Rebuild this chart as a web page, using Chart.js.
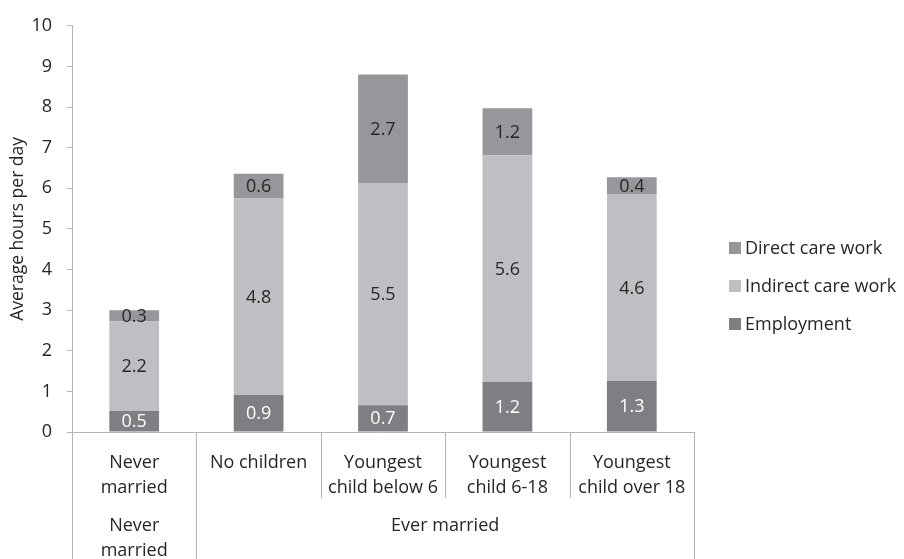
<!DOCTYPE html>
<html>
<head>
<meta charset="utf-8">
<script src="https://cdn.jsdelivr.net/npm/chart.js@4/dist/chart.umd.min.js"></script>
<style>
  html, body { margin: 0; padding: 0; background: #fff; }
</style>
</head>
<body>
<canvas id="chart" width="904" height="559"></canvas>
<script>
// categories (first axis row) and their parent groups (second row)
var categories = [['Never', 'married'], 'No children', ['Youngest', 'child below 6'], ['Youngest', 'child 6-18'], ['Youngest', 'child over 18']];
var groups = [['Never', 'married'], ['Ever married']];
var groupSizes = [1, 4];

// hours per day
var employment = [0.52, 0.91, 0.66, 1.23, 1.26];
var indirectCare = [2.2, 4.84, 5.47, 5.58, 4.6];
var directCare = [0.28, 0.61, 2.67, 1.16, 0.41];

var yTicks = [0, 1, 2, 3, 4, 5, 6, 7, 8, 9, 10];

var FONT = '"Open Sans", sans-serif';
var FS = 18;
Chart.defaults.font.family = FONT;
Chart.defaults.color = '#262626';

// value labels in the middle of each segment
var segmentLabels = {
  id: 'segmentLabels',
  afterDatasetsDraw: function(chart) {
    var ctx = chart.ctx;
    ctx.save();
    ctx.font = FS + 'px ' + FONT;
    ctx.textAlign = 'center';
    ctx.textBaseline = 'middle';
    chart.data.datasets.forEach(function(ds, i) {
      var meta = chart.getDatasetMeta(i);
      meta.data.forEach(function(bar, j) {
        ctx.fillStyle = ds.labelColor;
        ctx.fillText(ds.data[j].toFixed(1), bar.x, (bar.y + bar.base) / 2 + 1);
      });
    });
    ctx.restore();
  }
};

// two-level category axis: separators + group names
var groupAxis = {
  id: 'groupAxis',
  afterDraw: function(chart) {
    var ctx = chart.ctx;
    var x = chart.scales.x;
    var area = chart.chartArea;
    var n = categories.length;
    var edges = [];
    for (var i = 0; i <= n; i++) {
      if (i === 0) edges.push(area.left);
      else if (i === n) edges.push(area.right);
      else edges.push((x.getPixelForValue(i - 1) + x.getPixelForValue(i)) / 2);
    }
    var groupEdges = [0];
    groupSizes.forEach(function(s) { groupEdges.push(groupEdges[groupEdges.length - 1] + s); });

    ctx.save();
    ctx.strokeStyle = '#b4b4b4';
    ctx.lineWidth = 1;
    edges.forEach(function(ex, i) {
      var full = groupEdges.indexOf(i) >= 0;
      var px = Math.round(ex) + 0.5;
      ctx.beginPath();
      ctx.moveTo(px, area.bottom);
      ctx.lineTo(px, full ? chart.height : area.bottom + 66);
      ctx.stroke();
    });

    ctx.font = FS + 'px ' + FONT;
    ctx.fillStyle = '#262626';
    ctx.textAlign = 'center';
    ctx.textBaseline = 'middle';
    groups.forEach(function(lines, g) {
      var cx = (edges[groupEdges[g]] + edges[groupEdges[g + 1]]) / 2;
      lines.forEach(function(line, k) {
        ctx.fillText(line, cx, area.bottom + 94 + k * 25);
      });
    });
    ctx.restore();
  }
};

// legend on the right, top series first
var sideLegend = {
  id: 'sideLegend',
  afterDraw: function(chart) {
    var ctx = chart.ctx;
    var ds = chart.data.datasets.slice().reverse();
    ctx.save();
    ctx.font = FS + 'px ' + FONT;
    ctx.textBaseline = 'middle';
    ctx.textAlign = 'left';
    ds.forEach(function(d, i) {
      var cy = 248 + i * 38;
      ctx.fillStyle = d.backgroundColor;
      ctx.fillRect(729, cy - 6, 12, 12);
      ctx.fillStyle = '#262626';
      ctx.fillText(d.label, 745, cy + 1);
    });
    ctx.restore();
  }
};

var ctx = document.getElementById('chart').getContext('2d');
var myChart = new Chart(ctx, {
  type: 'bar',
  data: {
    labels: categories,
    datasets: [{
      label: 'Employment',
      data: employment,
      backgroundColor: '#7f7f83',
      labelColor: '#ffffff'
    }, {
      label: 'Indirect care work',
      data: indirectCare,
      backgroundColor: '#bfbfc3',
      labelColor: '#262626'
    }, {
      label: 'Direct care work',
      data: directCare,
      backgroundColor: '#97979b',
      labelColor: '#262626'
    }]
  },
  options: {
    responsive: false,
    animation: false,
    layout: { padding: { top: 24, right: 210, left: 0, bottom: 0 } },
    plugins: {
      legend: { display: false },
      tooltip: { enabled: false }
    },
    datasets: {
      bar: { categoryPercentage: 1, barPercentage: 0.4 }
    },
    scales: {
      x: {
        stacked: true,
        grid: { display: false, drawTicks: false },
        border: { color: '#b4b4b4', width: 1 },
        ticks: {
          autoSkip: false,
          maxRotation: 0,
          padding: 18,
          font: { size: FS, lineHeight: 25 / FS }
        },
        afterFit: function(s) { s.height = 127; }
      },
      y: {
        stacked: true,
        min: 0,
        max: 10,
        afterBuildTicks: function(s) { s.ticks = yTicks.map(function(v) { return { value: v }; }); },
        grid: { drawOnChartArea: false, tickLength: 5, color: '#b4b4b4' },
        border: { color: '#b4b4b4', width: 1 },
        ticks: { padding: 15, font: { size: FS } },
        title: {
          display: true,
          text: 'Average hours per day',
          font: { size: 17.5 },
          padding: { top: 8, bottom: 0 }
        },
        afterFit: function(s) { s.width = 72; }
      }
    }
  },
  plugins: [segmentLabels, groupAxis, sideLegend]
});
</script>
</body>
</html>
